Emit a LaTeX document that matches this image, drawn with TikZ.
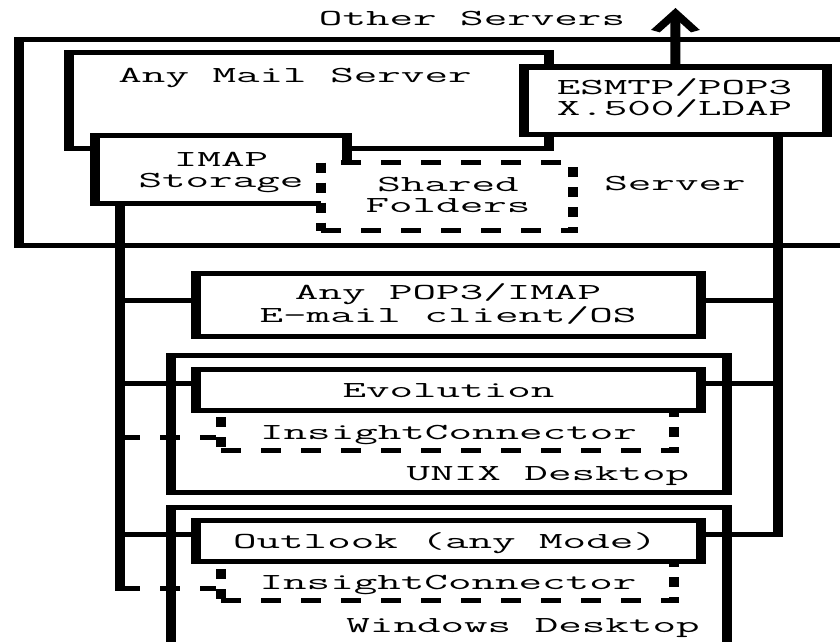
\documentclass[tikz,border=0pt]{standalone}
\usepackage{fontspec}
\usetikzlibrary{fit, arrows.meta}

\newcommand{\figfont}{\ttfamily\fontsize{22.86pt}{21pt}\selectfont}
\tikzset{
    figbox/.style={draw, line width=5pt, fill=white, inner sep=0pt},
    dashbox/.style={figbox, dash pattern=on 10pt off 10pt},
    figtext/.style={font=\figfont, align=center, anchor=base, inner sep=0pt},
    conn/.style={line width=5pt, line cap=rect},
    dconn/.style={line width=5pt, dash pattern=on 10pt off 10pt},
}

\begin{document}
\begin{tikzpicture}[x=1pt, y=-1pt]
    \useasboundingbox (0, 0) rectangle (840, 642);
    \clip (0, 0) rectangle (840, 642);
    \begin{scope}[x=0.5pt, transform canvas={xscale=2}]

    % Server side
    \node[figbox, fit={(19, 39.5) (900, 245.5)}] (srv) {};
    \node[figbox, fit={(69, 52.5) (548.5, 148)}] (mail) {};
    \node[figbox, fit={(94.5, 135.5) (347, 203)}] (imap) {};
    \node[dashbox, fit={(321, 162.5) (573, 230.5)}] (shared) {};
    \node[figbox, fit={(523.5, 67) (827, 134.5)}] (esmtp) {};

    % (base of a two line text is its last line)
    \node[figtext] (othtxt) at (472, 26) {Other Servers};
    \node[figtext] (mailtxt) at (295, 82) {Any Mail Server};
    \node[figtext] (imaptxt) at (221, 187) {IMAP\\Storage};
    \node[figtext] (sharedtxt) at (448, 212) {Shared\\Folders};
    \node[figtext] (esmtptxt) at (674.5, 115) {ESMTP/POP3\\X.500/LDAP};
    \node[figtext] (srvtxt) at (675, 190) {Server};

    % Clients
    \node[figbox, fit={(196, 273) (701, 336.5)}] (pop) {};
    \node[figbox, fit={(170.5, 355.5) (726.5, 492.5)}] (unix) {};
    \node[dashbox, fit={(221, 410) (674, 450)}] (icu) {};
    \node[figbox, fit={(196, 369.5) (701, 410)}] (evo) {};
    \node[figbox, fit={(170.5, 507.5) (726.5, 700)}] (win) {};
    \node[dashbox, fit={(221, 561) (674, 600)}] (icw) {};
    \node[figbox, fit={(196, 520.5) (701, 561)}] (outl) {};

    \node[figtext] (poptxt) at (448, 322) {Any POP3/IMAP\\E-mail client/OS};
    \node[figtext] (evotxt) at (448.5, 397) {Evolution};
    \node[figtext] (icutxt) at (448.5, 439) {InsightConnector};
    \node[figtext] (unixtxt) at (548, 480) {UNIX Desktop};
    \node[figtext] (outltxt) at (445, 548) {Outlook (any Mode)};
    \node[figtext] (icwtxt) at (448, 589) {InsightConnector};
    \node[figtext] (wintxt) at (523, 632) {Windows Desktop};

    % Buses
    \coordinate (lbus) at (120, 588);
    \coordinate (rbus) at (777.5, 534);
    \coordinate (out) at (675.5, 8);

    \draw[conn, -{Straight Barb[length=18pt, width=20pt, sharp]}] (esmtp.north) -- (out);
    \draw[conn] (imap.south -| lbus) -- (lbus);
    \draw[dconn] (lbus) -- (lbus -| icw.west);
    \draw[conn] (esmtp.south -| rbus) -- (rbus) -- (rbus -| outl.east);

    % Branches off the buses
    \foreach \b/\y in {pop/300, evo/383} {
        \coordinate (\b row) at (120, \y);
        \draw[conn] (\b row) -- (\b row -| \b.west);
        \draw[conn] (\b row -| \b.east) -- (\b row -| rbus);
    }
    \coordinate (outl row) at (120, 534);
    \draw[conn] (outl row) -- (outl row -| outl.west);
    \coordinate (icu row) at (120, 437);
    \draw[dconn] (icu row) -- (icu row -| icu.west);

    \end{scope}
\end{tikzpicture}
\end{document}
